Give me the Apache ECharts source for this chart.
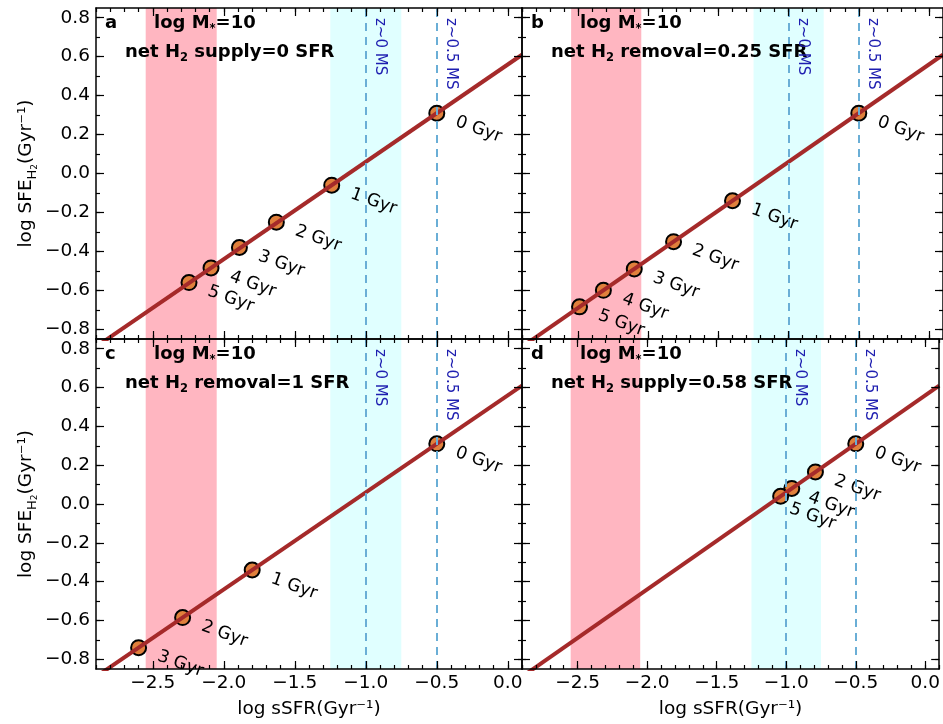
<!DOCTYPE html>
<html>
<head>
<meta charset="utf-8">
<script src="https://cdn.jsdelivr.net/npm/echarts@6/dist/echarts.min.js"></script>
<style>
  html, body { margin: 0; padding: 0; background: #ffffff; }
  #chart { width: 943px; height: 724px; }
</style>
</head>
<body>
<div id="chart"></div>
<script>
// Axis ranges and tick labels
const xRange = [-2.9, 0.1];
const yRange = [-0.85, 0.85];
const xMajorTicks = [-2.5, -2.0, -1.5, -1.0, -0.5, 0.0];
const yMajorTicks = [-0.8, -0.6, -0.4, -0.2, 0.0, 0.2, 0.4, 0.6, 0.8];

// Shaded sSFR bands and main-sequence reference lines
const pinkBand = [-2.55, -2.05];
const cyanBand = [-1.25, -0.75];
const msLineX = [-1.0, -0.5];
const msLineNames = ['z~0 MS', 'z~0.5 MS'];

// Evolutionary track endpoints (log sSFR, log SFE_H2)
const trackX = [-2.9, 0.1];
const trackY = [-0.89, 0.61];

// Panel a: net H2 supply = 0 SFR
const agesA = ['0 Gyr', '1 Gyr', '2 Gyr', '3 Gyr', '4 Gyr', '5 Gyr'];
const ssfrA = [-0.5, -1.24, -1.63, -1.89, -2.09, -2.245];
const sfeA  = [0.31, -0.06, -0.25, -0.38, -0.485, -0.56];

// Panel b: net H2 removal = 0.25 SFR
const agesB = ['0 Gyr', '1 Gyr', '2 Gyr', '3 Gyr', '4 Gyr', '5 Gyr'];
const ssfrB = [-0.5, -1.40, -1.82, -2.10, -2.32, -2.49];
const sfeB  = [0.31, -0.14, -0.35, -0.49, -0.60, -0.685];

// Panel c: net H2 removal = 1 SFR
const agesC = ['0 Gyr', '1 Gyr', '2 Gyr', '3 Gyr'];
const ssfrC = [-0.5, -1.80, -2.29, -2.60];
const sfeC  = [0.31, -0.34, -0.585, -0.74];

// Panel d: net H2 supply = 0.58 SFR
const agesD = ['0 Gyr', '2 Gyr', '4 Gyr', '5 Gyr'];
const ssfrD = [-0.5, -0.79, -0.96, -1.04];
const sfeD  = [0.31, 0.165, 0.08, 0.04];

const panelLetters = ['a', 'b', 'c', 'd'];
const flowWords = ['supply', 'removal', 'removal', 'supply'];
const flowValues = ['0', '0.25', '1', '0.58'];

const FONT = 'DejaVu Sans';
const TRACK_COLOR = '#a52a2a';
const MARKER_COLOR = '#e0803c';
const MS_COLOR = '#6aaed6';
const MS_TEXT_COLOR = '#1e1eb0';

const panels = [
  { ages: agesA, x: ssfrA, y: sfeA },
  { ages: agesB, x: ssfrB, y: sfeB },
  { ages: agesC, x: ssfrC, y: sfeC },
  { ages: agesD, x: ssfrD, y: sfeD }
];

// Label nudges for crowded points in panel d
const labelOffsets = { 3: { 2: [11, 5], 3: [5, 11] } };

const grids = [
  { left: 96,  top: 8,   width: 426, height: 331 },
  { left: 522, top: 8,   width: 426, height: 331 },
  { left: 96,  top: 339, width: 426, height: 330 },
  { left: 522, top: 339, width: 426, height: 330 }
];

const xMinor = [];
for (let k = -29; k <= 1; k++) xMinor.push(k / 10);
const yMinor = [];
for (let k = -8; k <= 8; k++) yMinor.push(k / 10);

const fmt = v => (v < 0 ? '\u2212' : '') + Math.abs(v).toFixed(1);
const axisLine = { show: true, onZero: false, lineStyle: { color: '#000', width: 1.5 } };
const noLine = { show: false, onZero: false };
const tickStyle = { color: '#000', width: 1.2 };
const labelStyle = { color: '#000', fontSize: 18.5, fontFamily: FONT };

const xAxes = [];
const yAxes = [];
grids.forEach((g, i) => {
  const bottomRow = i >= 2;
  const leftCol = i % 2 === 0;
  const xb = { type: 'value', gridIndex: i, min: xRange[0], max: xRange[1], splitLine: { show: false }, z: 10 };
  const yb = { type: 'value', gridIndex: i, min: yRange[0], max: yRange[1], splitLine: { show: false }, z: 10 };
  xAxes.push(Object.assign({}, xb, {
    position: 'bottom', axisLine,
    axisTick: { show: true, inside: true, length: 8, customValues: xMajorTicks, lineStyle: tickStyle },
    axisLabel: Object.assign({ show: bottomRow, customValues: xMajorTicks, formatter: fmt, margin: 5 }, labelStyle),
    name: bottomRow ? 'log sSFR(Gyr\u207b\u00b9)' : '',
    nameLocation: 'middle', nameGap: 31,
    nameTextStyle: { color: '#000', fontSize: 18.5, fontFamily: FONT }
  }));
  xAxes.push(Object.assign({}, xb, {
    position: 'bottom', axisLine: noLine,
    axisTick: { show: true, inside: true, length: 4, customValues: xMinor, lineStyle: tickStyle },
    axisLabel: { show: false }
  }));
  xAxes.push(Object.assign({}, xb, {
    position: 'top', axisLine,
    axisTick: { show: true, inside: true, length: 8, customValues: xMajorTicks, lineStyle: tickStyle },
    axisLabel: { show: false }
  }));
  xAxes.push(Object.assign({}, xb, {
    position: 'top', axisLine: noLine,
    axisTick: { show: true, inside: true, length: 4, customValues: xMinor, lineStyle: tickStyle },
    axisLabel: { show: false }
  }));

  yAxes.push(Object.assign({}, yb, {
    position: 'left', axisLine,
    axisTick: { show: true, inside: true, length: 8, customValues: yMajorTicks, lineStyle: tickStyle },
    axisLabel: Object.assign({ show: leftCol, customValues: yMajorTicks, formatter: fmt, margin: 6 }, labelStyle),
    name: leftCol ? '{n|log SFE}{s|H}{t|2}{n|(Gyr\u207b\u00b9)}' : '',
    nameLocation: 'middle', nameGap: 57, nameRotate: 90,
    nameTextStyle: {
      rich: {
        n: { color: '#000', fontSize: 18.5, fontFamily: FONT, lineHeight: 26, verticalAlign: 'middle' },
        s: { color: '#000', fontSize: 13, fontFamily: FONT, lineHeight: 16, verticalAlign: 'bottom' },
        t: { color: '#000', fontSize: 9, fontFamily: FONT, lineHeight: 10, verticalAlign: 'bottom' }
      }
    }
  }));
  yAxes.push(Object.assign({}, yb, {
    position: 'left', axisLine: noLine,
    axisTick: { show: true, inside: true, length: 4, customValues: yMinor, lineStyle: tickStyle },
    axisLabel: { show: false }
  }));
  yAxes.push(Object.assign({}, yb, {
    position: 'right', axisLine,
    axisTick: { show: true, inside: true, length: 8, customValues: yMajorTicks, lineStyle: tickStyle },
    axisLabel: { show: false }
  }));
  yAxes.push(Object.assign({}, yb, {
    position: 'right', axisLine: noLine,
    axisTick: { show: true, inside: true, length: 4, customValues: yMinor, lineStyle: tickStyle },
    axisLabel: { show: false }
  }));
});

const series = [];
panels.forEach((p, i) => {
  const ax = { xAxisIndex: 4 * i, yAxisIndex: 4 * i };
  // bands and dashed main-sequence lines
  series.push(Object.assign({
    type: 'line', data: [], z: 1, silent: true,
    markArea: {
      silent: true,
      data: [
        [{ xAxis: pinkBand[0], itemStyle: { color: '#ffb6c1' } }, { xAxis: pinkBand[1] }],
        [{ xAxis: cyanBand[0], itemStyle: { color: '#e0ffff' } }, { xAxis: cyanBand[1] }]
      ]
    },
    markLine: {
      silent: true, symbol: 'none', animation: false,
      label: { show: false },
      lineStyle: { type: [8, 6], color: MS_COLOR, width: 2 },
      data: msLineX.map(v => ({ xAxis: v }))
    }
  }, ax));
  // age markers
  series.push(Object.assign({
    type: 'scatter', z: 3,
    symbol: 'circle', symbolSize: 15,
    itemStyle: { color: MARKER_COLOR, borderColor: '#000', borderWidth: 2, opacity: 1 },
    label: {
      show: true, position: 'right', distance: 0, offset: [13, 4], rotate: -20,
      color: '#000', fontSize: 17.5, fontFamily: FONT,
      formatter: q => p.ages[q.dataIndex]
    },
    data: p.x.map((xv, j) => {
      const item = { value: [xv, p.y[j]] };
      if (labelOffsets[i] && labelOffsets[i][j]) item.label = { offset: labelOffsets[i][j] };
      return item;
    })
  }, ax));
  // evolutionary track
  series.push(Object.assign({
    type: 'line', z: 4, symbol: 'none', clip: true, silent: true,
    lineStyle: { color: TRACK_COLOR, width: 4 },
    data: trackX.map((xv, j) => [xv, trackY[j]])
  }, ax));
});

const chart = echarts.init(document.getElementById('chart'), null, { renderer: 'canvas' });
chart.setOption({
  animation: false,
  backgroundColor: '#ffffff',
  grid: grids,
  xAxis: xAxes,
  yAxis: yAxes,
  series: series
});

// Panel annotations
const boldRich = {
  b: { fontSize: 18, fontWeight: 'bold', fontFamily: FONT, fill: '#000', lineHeight: 24, verticalAlign: 'middle' },
  s: { fontSize: 11.5, fontWeight: 'bold', fontFamily: FONT, fill: '#000', lineHeight: 11, verticalAlign: 'bottom' }
};
const graphics = [];
grids.forEach((g, i) => {
  graphics.push({
    type: 'text', x: g.left + 9, y: g.top + 15, z: 20, silent: true,
    style: { text: '{b|' + panelLetters[i] + '}', rich: boldRich, textAlign: 'left', textVerticalAlign: 'middle' }
  });
  graphics.push({
    type: 'text', x: g.left + 58, y: g.top + 15, z: 20, silent: true,
    style: { text: '{b|log M}{s|*}{b|=10}', rich: boldRich, textAlign: 'left', textVerticalAlign: 'middle' }
  });
  graphics.push({
    type: 'text', x: g.left + 29, y: g.top + 44, z: 20, silent: true,
    style: {
      text: '{b|net H}{s|2}{b| ' + flowWords[i] + '=' + flowValues[i] + ' SFR}',
      rich: boldRich, textAlign: 'left', textVerticalAlign: 'middle'
    }
  });
  msLineX.forEach((v, k) => {
    const px = chart.convertToPixel({ xAxisIndex: 4 * i }, v);
    graphics.push({
      type: 'text', x: px + 14, y: g.top + 10, z: 20, silent: true,
      rotation: -Math.PI / 2,
      style: {
        text: msLineNames[k], fill: MS_TEXT_COLOR,
        font: '15px "DejaVu Sans"', textAlign: 'left', textVerticalAlign: 'middle'
      }
    });
  });
});
chart.setOption({ graphic: graphics });
</script>
</body>
</html>
